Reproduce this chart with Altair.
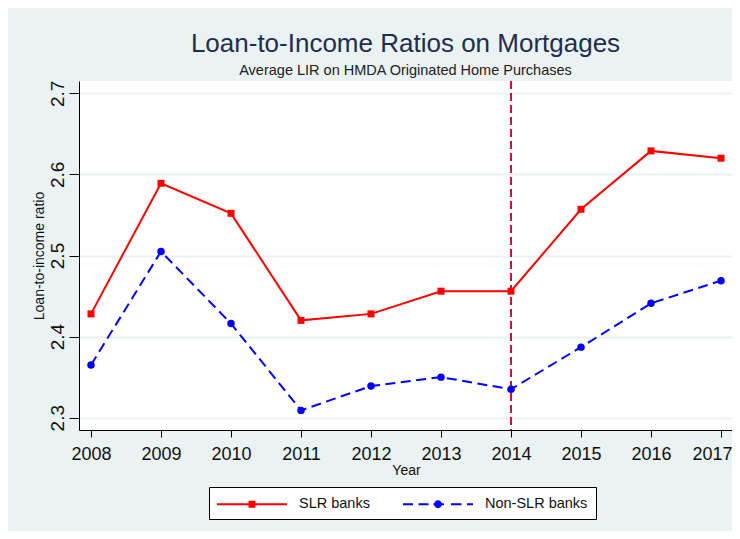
import altair as alt
import pandas as pd

# ---- data ----
years = [2008, 2009, 2010, 2011, 2012, 2013, 2014, 2015, 2016, 2017]
slr_values = [2.428, 2.589, 2.552, 2.420, 2.428, 2.456, 2.456, 2.557, 2.629, 2.620]
non_slr_values = [2.365, 2.505, 2.416, 2.309, 2.339, 2.350, 2.335, 2.387, 2.441, 2.469]
series_names = ["SLR banks", "Non-SLR banks"]
series_colors = ["#FF0000", "#0000FF"]
y_ticks = [2.3, 2.4, 2.5, 2.6, 2.7]
event_year = [2014]

FONT = "Liberation Sans"
BG = "#EAF2F3"

df = pd.DataFrame(
    {
        "year": years * 2,
        "value": slr_values + non_slr_values,
        "series": [series_names[0]] * len(years) + [series_names[1]] * len(years),
    }
)
ev = pd.DataFrame({"year": event_year})


# ---- legend key glyphs (line + marker), unit = 9 px ----
def rect(x0, x1, h):
    return f"M{x0:.3f},{-h:.3f}H{x1:.3f}V{h:.3f}H{x0:.3f}Z"


U = 9.0
half_th = 1.0 / U
solid_key = rect(-35 / U, 35 / U, half_th) + rect(-3.5 / U, 3.5 / U, 3.5 / U)
dash_segments = [(-35, -25), (-19.5, -9.5), (-4.5, 6), (13, 23.5), (29, 35)]
r = 3.9 / U
dashed_key = "".join(rect(a / U, b / U, half_th) for a, b in dash_segments)
# clockwise circle so that it adds to (not cancels) the overlapping dash
dashed_key += f"M{-r:.3f},0A{r:.3f},{r:.3f} 0 1,1 {r:.3f},0A{r:.3f},{r:.3f} 0 1,1 {-r:.3f},0Z"

x_scale = alt.Scale(domain=[2007.8286, 2017.157], nice=False, zero=False)
y_scale = alt.Scale(domain=[2.2848, 2.7152], nice=False, zero=False)

x_axis = alt.Axis(
    values=years,
    format="d",
    title="Year",
    grid=False,
    tickSize=7,
    tickColor="#000",
    domainColor="#000",
    labelFont=FONT,
    labelFontSize=18,
    labelColor="#111",
    labelBaseline="alphabetic",
    labelPadding=22,
    labelFlush=11.5,
    labelFlushOffset=11,
    labelOverlap=False,
    titleFont=FONT,
    titleFontSize=14,
    titleFontWeight="normal",
    titleColor="#111",
    titleBaseline="alphabetic",
    titleX=327,
    titleY=44,
)
y_axis = alt.Axis(
    values=y_ticks,
    format=".1f",
    title="Loan-to-income ratio",
    grid=True,
    gridColor=BG,
    gridWidth=2,
    tickSize=10,
    tickColor="#000",
    domainColor="#000",
    labelFont=FONT,
    labelFontSize=19,
    labelColor="#111",
    labelAngle=270,
    labelAlign="center",
    labelBaseline="alphabetic",
    labelPadding=6,
    titleFont=FONT,
    titleFontSize=14,
    titleFontWeight="normal",
    titleColor="#111",
    titleAngle=270,
    titleAlign="center",
    titleBaseline="alphabetic",
    titleX=-36,
    titleY=174.5,
)

X = alt.X("year:Q", scale=x_scale, axis=x_axis)
Y = alt.Y("value:Q", scale=y_scale, axis=y_axis)

base = alt.Chart(df)

vline = (
    alt.Chart(ev)
    .mark_rule(color="#C8143C", strokeWidth=2, strokeDash=[8, 4])
    .encode(x=alt.X("year:Q", scale=x_scale, axis=x_axis))
)

slr_only = base.transform_filter(alt.datum.series == series_names[0])
non_only = base.transform_filter(alt.datum.series == series_names[1])

line_slr = slr_only.mark_line(strokeWidth=2, color=series_colors[0]).encode(x=X, y=Y)
line_non = non_only.mark_line(
    strokeWidth=2, color=series_colors[1], strokeDash=[10, 5.5]
).encode(x=X, y=Y)
pts_slr = slr_only.mark_point(
    shape="square", filled=True, size=49, opacity=1, color=series_colors[0]
).encode(x=X, y=Y)
pts_non = non_only.mark_point(
    shape="circle", filled=True, size=56, opacity=1, color=series_colors[1]
).encode(x=X, y=Y)

legend = alt.Legend(
    title=None,
    orient="none",
    legendX=130,
    legendY=406,
    direction="horizontal",
    fillColor="white",
    strokeColor="#000",
    padding=8,
    symbolSize=324,
    symbolOffset=26,
    symbolStrokeWidth=0,
    symbolOpacity=1,
    labelOffset=38,
    columnPadding=32,
    labelFont=FONT,
    labelFontSize=14.5,
    labelColor="#111",
    labelExpr="datum.label + '\u00a0\u00a0\u00a0'",
)

legend_layer = base.mark_point(filled=True, opacity=0, size=10).encode(
    x=X,
    y=Y,
    color=alt.Color(
        "series:N", scale=alt.Scale(domain=series_names, range=series_colors), legend=legend
    ),
    shape=alt.Shape(
        "series:N",
        scale=alt.Scale(domain=series_names, range=[solid_key, dashed_key]),
        legend=legend,
    ),
)

chart = (
    alt.layer(vline, line_slr, line_non, pts_slr, pts_non, legend_layer)
    .properties(
        width=653,
        height=349,
        autosize=alt.AutoSizeParams(type="none"),
        padding={"left": 71, "top": 73, "right": 0, "bottom": 101},
        background=BG,
        title=alt.TitleParams(
            text="Loan-to-Income Ratios on Mortgages",
            subtitle="Average LIR on HMDA Originated Home Purchases",
            anchor="middle",
            frame="group",
            font=FONT,
            fontSize=26,
            fontWeight="normal",
            color="#1F2D4D",
            subtitleFont=FONT,
            subtitleFontSize=14.5,
            subtitleColor="#222",
            subtitlePadding=7,
            offset=3,
        ),
    )
    .configure_view(fill="white", stroke=None)
)

chart.save("out.html", embed_options={"renderer": "svg", "actions": False})
